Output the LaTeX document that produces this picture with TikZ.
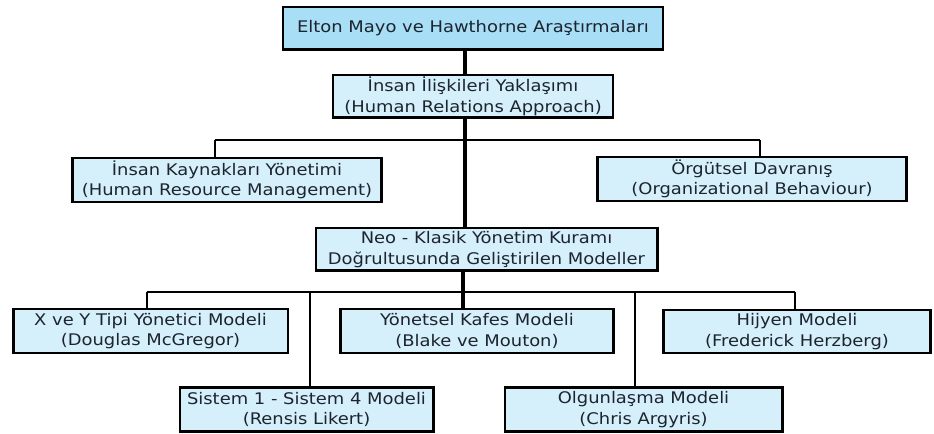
\documentclass[tikz,border=0pt]{standalone}
\usepackage{fontspec}
\setmainfont{DejaVu Sans}[FakeStretch=1.12]
\usepackage{xcolor}
\usepackage{tikz}
\definecolor{topblue}{RGB}{168,222,246}
\definecolor{boxblue}{RGB}{214,240,251}
\definecolor{ink}{RGB}{28,36,46}
\usetikzlibrary{positioning,calc}

\begin{document}
\begin{tikzpicture}[x=0.75pt,y=-0.75pt,
    kutu/.style={draw=black, line width=2pt, fill=boxblue, text=ink, align=center,
        inner sep=0pt, font=\fontsize{12}{15.5}\selectfont},
    omurga/.style={line width=2.4pt},
    hat/.style={line width=1.5pt},
    dal/.style={line width=1.2pt}]
    % frame
    \useasboundingbox (0,0) rectangle (934,434);

    % top of the tree
    \node[kutu, fill=topblue, minimum width=285pt, minimum height=32pt] (mayo) at (473,28.5)
        {Elton Mayo ve Hawthorne Araştırmaları};
    \node[kutu, minimum width=210pt, minimum height=32pt] (insan) at (473,96.5)
        {İnsan İlişkileri Yaklaşımı\\(Human Relations Approach)};

    % second level
    \node[kutu, minimum width=232pt, minimum height=33pt] (ik) at (227,180)
        {İnsan Kaynakları Yönetimi\\(Human Resource Management)};
    \node[kutu, minimum width=232pt, minimum height=33pt] (orgut) at (752,179)
        {Örgütsel Davranış\\(Organizational Behaviour)};
    \node[kutu, minimum width=256pt, minimum height=32pt] (neo) at (486.5,249.5)
        {Neo - Klasik Yönetim Kuramı\\Doğrultusunda Geliştirilen Modeller};

    % models
    \node[kutu, minimum width=206pt, minimum height=33pt] (xy) at (150.5,331)
        {X ve Y Tipi Yönetici Modeli\\(Douglas McGregor)};
    \node[kutu, minimum width=205pt, minimum height=33pt] (kafes) at (477,331)
        {Yönetsel Kafes Modeli\\(Blake ve Mouton)};
    \node[kutu, minimum width=200pt, minimum height=32pt] (hijyen) at (797,331.5)
        {Hijyen Modeli\\(Frederick Herzberg)};
    \node[kutu, minimum width=190pt, minimum height=33pt] (sistem) at (306.5,409.5)
        {Sistem 1 - Sistem 4 Modeli\\(Rensis Likert)};
    \node[kutu, minimum width=208pt, minimum height=33pt] (olgun) at (643.5,409.5)
        {Olgunlaşma Modeli\\(Chris Argyris)};

    % bus points
    \coordinate (ust) at (465,140);
    \coordinate (ikd) at (215,140);
    \coordinate (orgd) at (760,140);
    \coordinate (alt) at (463,292);
    \coordinate (xyd) at (147,292);
    \coordinate (sisd) at (310,292);
    \coordinate (olgd) at (635,292);
    \coordinate (hijd) at (795,292);

    % connectors
    \draw[omurga] (mayo.south -| ust) -- (insan.north -| ust);
    \draw[omurga] (insan.south -| ust) -- (neo.north -| ust);
    \draw[hat] (ikd) -- (orgd);
    \draw[dal] (ikd) -- (ik.north -| ikd);
    \draw[dal] (orgd) -- (orgut.north -| orgd);

    \draw[omurga] (neo.south -| alt) -- (kafes.north -| alt);
    \draw[hat] (xyd) -- (hijd);
    \draw[dal] (xyd) -- (xy.north -| xyd);
    \draw[hat] (sisd) -- (sistem.north -| sisd);
    \draw[hat] (olgd) -- (olgun.north -| olgd);
    \draw[hat] (hijd) -- (hijyen.north -| hijd);
\end{tikzpicture}
\end{document}
